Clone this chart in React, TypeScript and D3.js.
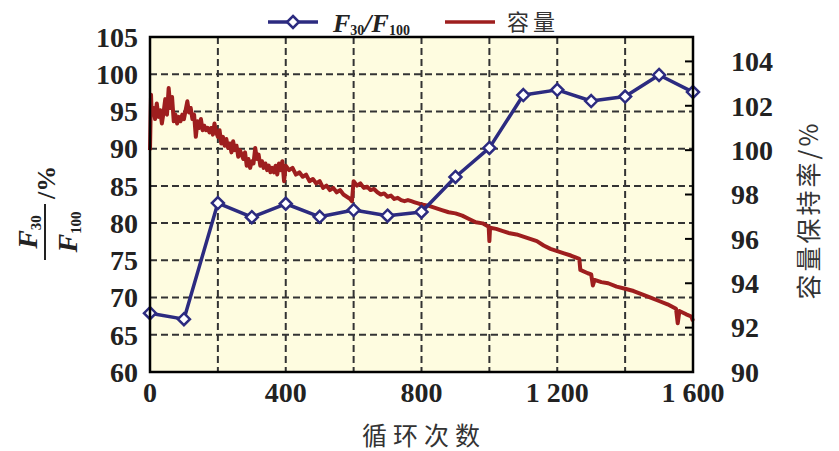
import React from 'react';
import * as d3 from 'd3';

const cycles = [0, 100, 200, 300, 400, 500, 600, 700, 800, 900, 1000, 1100, 1200, 1300, 1400, 1500, 1600];
const ratio = [67.9, 67.1, 82.7, 80.8, 82.6, 80.85, 81.75, 81.0, 81.5, 86.2, 90.1, 97.2, 97.9, 96.4, 97.0, 99.9, 97.6];

const capCycles = [
  0, 3, 5, 10, 15, 20, 25, 30, 35, 40, 45, 50, 55, 60, 65, 70, 75, 80, 85, 90, 95,
  100, 105, 110, 115, 120, 125, 130, 135, 140, 145, 150, 155, 160, 165, 170, 175, 180, 185, 190, 195,
  200, 205, 210, 215, 220, 225, 230, 235, 240, 245, 250, 255, 260, 265, 270, 275, 280, 285, 290, 295,
  300, 305, 310, 315, 320, 325, 330, 335, 340, 345, 350, 355, 360, 365, 370, 375, 380, 385, 390, 395,
  400, 410, 420, 430, 440, 450, 460, 470, 480, 490, 500, 510, 520, 530, 540, 550, 560, 570, 580, 590, 595,
  600, 610, 620, 630, 640, 650, 660, 670, 680, 690, 700, 710, 720, 730, 740, 750, 760, 770, 780, 790,
  800, 820, 840, 860, 880, 900, 920, 940, 960, 980, 998, 1000, 1002, 1020, 1040, 1060, 1080,
  1100, 1120, 1140, 1160, 1180, 1200, 1220, 1240, 1265, 1268, 1290, 1300, 1305, 1310, 1330, 1350, 1375,
  1400, 1425, 1450, 1475, 1500, 1525, 1550, 1555, 1560, 1580, 1595, 1600,
];
const capValues = [
  100.0, 102.5, 101.6, 101.9, 101.4, 102.1, 101.5, 101.8, 101.2, 101.7, 102.3, 101.6, 102.8, 101.9, 102.4, 101.3, 101.6, 101.2, 101.5, 101.3, 101.6,
  101.4, 101.8, 102.2, 101.7, 101.9, 101.4, 101.6, 100.6, 101.3, 101.0, 101.4, 100.9, 101.1, 100.9, 101.0, 100.8, 101.0, 100.7, 101.2, 100.8,
  100.6, 100.9, 100.3, 100.6, 100.2, 100.5, 100.1, 100.3, 99.9, 100.4, 100.0, 100.2, 99.7, 100.0, 99.8, 99.6, 99.9, 99.3, 99.6, 99.2,
  99.5, 99.4, 100.1, 99.6, 99.8, 99.3, 99.5, 99.2, 99.4, 99.1, 99.3, 99.0, 99.2, 99.0, 99.3, 98.9, 99.4, 99.1, 99.5, 98.6,
  99.3, 99.1, 99.2, 98.9, 99.0, 98.8, 98.9, 98.6, 98.7, 98.5, 98.6, 98.3, 98.4, 98.2, 98.3, 98.1, 98.2, 98.0, 97.9, 97.8, 97.7,
  98.6, 98.4, 98.5, 98.3, 98.35, 98.2, 98.25, 98.1, 98.0, 98.05, 97.9, 97.95, 97.8, 97.85, 97.75, 97.7, 97.75, 97.7, 97.65, 97.6,
  97.55, 97.5, 97.4, 97.3, 97.2, 97.15, 97.05, 96.9, 96.75, 96.7, 96.55, 95.9, 96.5, 96.45, 96.35, 96.25, 96.2,
  96.1, 96.0, 95.9, 95.7, 95.55, 95.45, 95.35, 95.25, 95.1, 94.6, 94.45, 94.4, 93.9, 94.15, 94.05, 94.0, 93.85,
  93.75, 93.65, 93.5, 93.35, 93.2, 93.05, 92.85, 92.2, 92.75, 92.6, 92.5, 92.3,
];

const xTicks = [0, 400, 800, 1200, 1600];
const xTickLabels = ['0', '400', '800', '1 200', '1 600'];
const xGrid = [200, 400, 600, 800, 1000, 1200, 1400];
const leftTicks = [60, 65, 70, 75, 80, 85, 90, 95, 100, 105];
const leftGrid = [65, 70, 75, 80, 85, 90, 95, 100];
const rightTicks = [90, 92, 94, 96, 98, 100, 102, 104];

const BLUE = '#2C2B80';
const RED = '#9E1E1E';
const SERIF = '"Liberation Serif", "Times New Roman", serif';
const CJK = '"Noto Sans CJK SC", sans-serif';

export default function App() {
  const L = 150, R = 693, T = 37, B = 372;
  const x = d3.scaleLinear().domain([0, 1600]).range([L, R]);
  const yL = d3.scaleLinear().domain([60, 105]).range([B, T]);
  const yR = d3.scaleLinear().domain([90, 105.1]).range([B, T]);

  const ratioLine = d3.line<number>().x((_, i) => x(cycles[i])).y((d) => yL(d))(ratio) || '';
  const capLine = d3.line<number>().x((_, i) => x(capCycles[i])).y((d) => yR(d))(capValues) || '';

  const diamond = (cx: number, cy: number, r: number) =>
    `M${cx},${cy - r}L${cx + r},${cy}L${cx},${cy + r}L${cx - r},${cy}Z`;

  return (
    <svg width={839} height={451} style={{ position: 'absolute', left: 0, top: 0, background: '#fff' }}>
      <rect x={L} y={T} width={R - L} height={B - T} fill="#FEFCE0" />
      {xGrid.map((v) => (
        <line key={'xg' + v} x1={x(v)} x2={x(v)} y1={T} y2={B} stroke="#333" strokeWidth={2} strokeDasharray="7,4" />
      ))}
      {leftGrid.map((v) => (
        <line key={'yg' + v} x1={L} x2={R} y1={yL(v)} y2={yL(v)} stroke="#333" strokeWidth={2} strokeDasharray="7,4" />
      ))}
      {rightTicks.map((v) => (
        <line key={'rt' + v} x1={R - 8} x2={R} y1={yR(v)} y2={yR(v)} stroke="#000" strokeWidth={2} />
      ))}
      <path d={capLine} fill="none" stroke={RED} strokeWidth={4} strokeLinejoin="round" />
      <path d={ratioLine} fill="none" stroke={BLUE} strokeWidth={3.5} strokeLinejoin="round" />
      {ratio.map((v, i) => (
        <path key={'m' + i} d={diamond(x(cycles[i]), yL(v), 6)} fill="#fff" stroke={BLUE} strokeWidth={2.5} />
      ))}
      <rect x={L} y={T} width={R - L} height={B - T} fill="none" stroke="#000" strokeWidth={2.5} />

      {leftTicks.map((v) => (
        <text key={'lt' + v} x={138} y={yL(v)} dy="0.35em" textAnchor="end" fontFamily={SERIF} fontWeight="bold" fontSize={28} fill="#222">
          {v}
        </text>
      ))}
      {rightTicks.map((v) => (
        <text key={'rl' + v} x={731} y={yR(v)} dy="0.35em" textAnchor="start" fontFamily={SERIF} fontWeight="bold" fontSize={28} fill="#222">
          {v}
        </text>
      ))}
      {xTicks.map((v, i) => (
        <text key={'xt' + v} x={x(v)} y={402} textAnchor="middle" fontFamily={SERIF} fontWeight="bold" fontSize={28} fill="#222">
          {xTickLabels[i]}
        </text>
      ))}

      <text x={424} y={445} textAnchor="middle" fontFamily={CJK} fontSize={25} letterSpacing={6} fill="#333">
        循环次数
      </text>

      <text transform="translate(818, 210) rotate(-90)" textAnchor="middle" fontFamily={CJK} fontSize={25} letterSpacing={3} fill="#333">
        容量保持率/%
      </text>

      <g transform="translate(45, 232) rotate(-90)" fontFamily={SERIF} fontWeight="bold" fill="#222">
        <text x={0} y={-8} textAnchor="middle" fontStyle="italic" fontSize={28}>
          F<tspan fontSize={15} fontStyle="normal" dy={4}>30</tspan>
        </text>
        <line x1={-28} x2={28} y1={0} y2={0} stroke="#222" strokeWidth={2} />
        <text x={0} y={32} textAnchor="middle" fontStyle="italic" fontSize={28}>
          F<tspan fontSize={15} fontStyle="normal" dy={4}>100</tspan>
        </text>
        <text x={33} y={10} fontSize={26}>
          /%
        </text>
      </g>

      <line x1={268} x2={318} y1={22} y2={22} stroke={BLUE} strokeWidth={3.5} />
      <path d={diamond(293, 22, 6)} fill="#fff" stroke={BLUE} strokeWidth={2.5} />
      <text x={333} y={32} fontFamily={SERIF} fontWeight="bold" fontSize={26} fill="#222">
        <tspan fontStyle="italic">F</tspan>
        <tspan fontSize={14} dy={3}>30</tspan>
        <tspan dy={-3} fontStyle="italic">/F</tspan>
        <tspan fontSize={14} dy={3}>100</tspan>
      </text>
      <line x1={445} x2={495} y1={22} y2={22} stroke={RED} strokeWidth={3.5} />
      <text x={507} y={30} fontFamily={CJK} fontSize={22} letterSpacing={4} fill="#333">
        容量
      </text>
    </svg>
  );
}
